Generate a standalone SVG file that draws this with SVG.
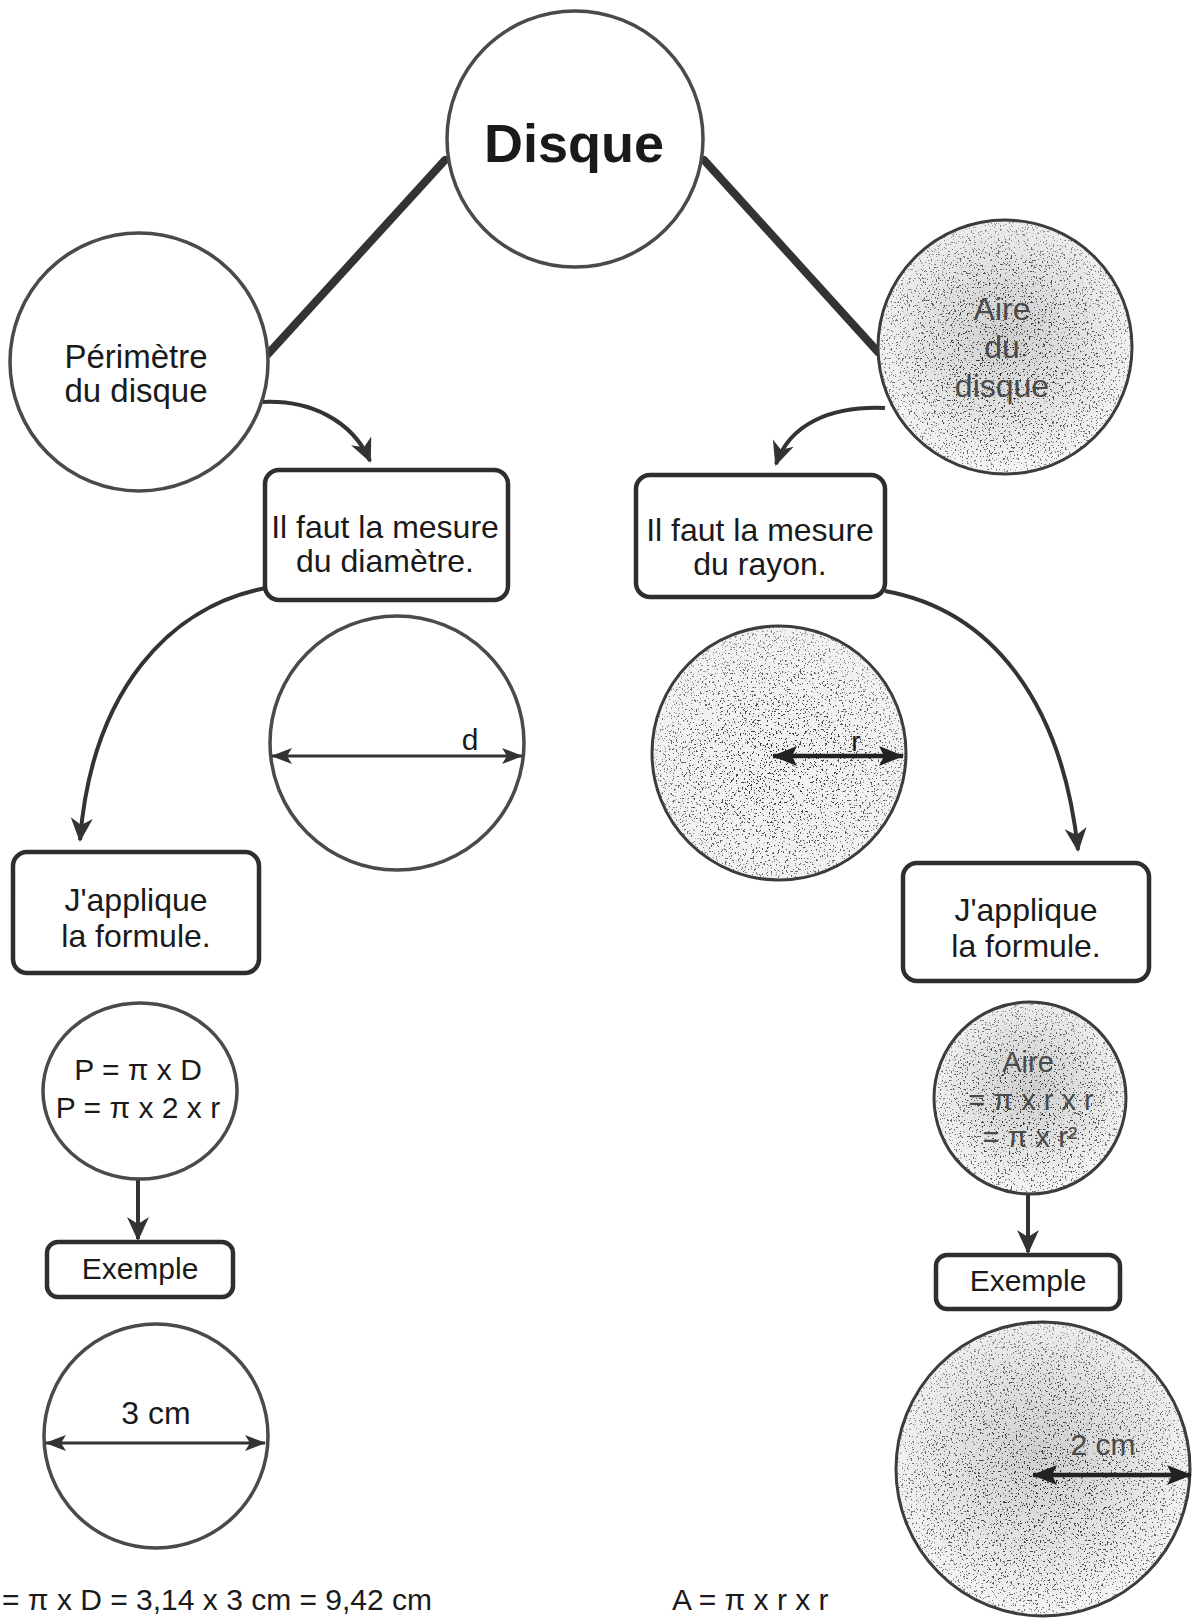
<svg xmlns="http://www.w3.org/2000/svg" width="1193" height="1618" viewBox="0 0 1193 1618">
<style>
  .ring { fill: #fff; stroke: #4a4a4a; stroke-width: 3.5; }
  .ringS { fill: none; stroke: #3c3c3c; stroke-width: 3; }
  .box { fill: #fff; stroke: #2e2e2e; stroke-width: 4.5; }
  .t { font-family: "Liberation Sans", Arial, sans-serif; fill: #1a1a1a; text-anchor: middle; }
  .tg { font-family: "Liberation Sans", Arial, sans-serif; fill: #4a4a4a; text-anchor: middle; }
  .thick { stroke: #333; stroke-width: 8; stroke-linecap: round; fill: none; }
  .curve { stroke: #333; stroke-width: 4; fill: none; marker-end: url(#ah); }
  .dim { stroke: #333; stroke-width: 3; fill: none; marker-start: url(#dh); marker-end: url(#dh); }
  .dimB { stroke: #222; stroke-width: 4.5; fill: none; marker-start: url(#dhb); marker-end: url(#dhb); }
</style>
<defs>
  <marker id="ah" markerUnits="userSpaceOnUse" markerWidth="26" markerHeight="24" refX="22" refY="12" orient="auto">
    <path d="M0,1 L24,12 L0,23 L7,12 z" fill="#333"/>
  </marker>
  <marker id="dh" markerUnits="userSpaceOnUse" markerWidth="22" markerHeight="16" refX="20" refY="8" orient="auto-start-reverse">
    <path d="M0,0 L21,8 L0,16 L5,8 z" fill="#333"/>
  </marker>
  <marker id="dhb" markerUnits="userSpaceOnUse" markerWidth="26" markerHeight="20" refX="24" refY="10" orient="auto-start-reverse">
    <path d="M0,0 L25,10 L0,20 L5,10 z" fill="#222"/>
  </marker>
  <radialGradient id="gfill" cx="50%" cy="45%" r="55%">
    <stop offset="0" stop-color="#cfcfcf"/>
    <stop offset="0.6" stop-color="#e4e4e4"/>
    <stop offset="1" stop-color="#f6f6f6"/>
  </radialGradient>
  <radialGradient id="gdens" cx="50%" cy="55%" r="55%">
    <stop offset="0" stop-color="#000" stop-opacity="1"/>
    <stop offset="0.7" stop-color="#000" stop-opacity="0.75"/>
    <stop offset="1" stop-color="#000" stop-opacity="0.45"/>
  </radialGradient>
  <filter id="speck" x="-5%" y="-5%" width="110%" height="110%" color-interpolation-filters="sRGB">
    <feTurbulence type="fractalNoise" baseFrequency="0.55" numOctaves="2" seed="7" result="noise"/>
    <feColorMatrix in="noise" type="matrix" values="0 0 0 0 0.15  0 0 0 0 0.15  0 0 0 0 0.15  18 0 0 0 -11.2" result="dots"/>
    <feComposite in="dots" in2="SourceGraphic" operator="in"/>
  </filter>
</defs>

<g id="connectors">
  <line class="thick" x1="445" y1="160" x2="268" y2="354"/>
  <line class="thick" x1="704" y1="160" x2="878" y2="352"/>
  <path class="curve" d="M263,402 C310,400 352,420 370,461"/>
  <path class="curve" d="M885,408 C830,406 790,424 776,464"/>
  <path class="curve" d="M266,588 C170,606 92,690 80,840"/>
  <path class="curve" d="M885,591 C990,610 1062,700 1078,850"/>
  <path class="curve" d="M138,1180 L138,1239"/>
  <path class="curve" d="M1028,1194 L1028,1252"/>
</g>

<g id="disque">
  <circle class="ring" cx="575" cy="139" r="128"/>
  <text class="t" x="574" y="162" font-size="54" font-weight="bold">Disque</text>
</g>

<g id="perimetre">
  <circle class="ring" cx="139" cy="362" r="129"/>
  <text class="t" x="136" y="368" font-size="33">Périmètre</text>
  <text class="t" x="136" y="402" font-size="33">du disque</text>
</g>

<g id="aire">
  <circle cx="1005" cy="347" r="127" fill="url(#gfill)"/>
  <circle cx="1005" cy="347" r="127" fill="url(#gdens)" filter="url(#speck)"/>
  <circle class="ringS" cx="1005" cy="347" r="127"/>
  <text class="tg" x="1002" y="320" font-size="32">Aire</text>
  <text class="tg" x="1002" y="358" font-size="32">du</text>
  <text class="tg" x="1002" y="397" font-size="32">disque</text>
</g>

<g id="box-diametre">
  <rect class="box" x="265" y="470" width="243" height="130" rx="14"/>
  <text class="t" x="385" y="538" font-size="32">Il faut la mesure</text>
  <text class="t" x="385" y="572" font-size="32">du diamètre.</text>
</g>

<g id="box-rayon">
  <rect class="box" x="636" y="475" width="249" height="122" rx="14"/>
  <text class="t" x="760" y="541" font-size="32">Il faut la mesure</text>
  <text class="t" x="760" y="575" font-size="32">du rayon.</text>
</g>

<g id="circle-d">
  <circle class="ring" cx="397" cy="743" r="127"/>
  <line class="dim" x1="272" y1="756" x2="522" y2="756"/>
  <text class="t" x="470" y="750" font-size="30">d</text>
</g>

<g id="circle-r">
  <circle cx="779" cy="753" r="127" fill="#f2f2f2"/>
  <circle cx="779" cy="753" r="127" fill="url(#gdens)" filter="url(#speck)"/>
  <circle class="ringS" cx="779" cy="753" r="127"/>
  <line class="dimB" x1="773" y1="756" x2="903" y2="756"/>
  <text class="t" x="856" y="751" font-size="28">r</text>
</g>

<g id="applique-left">
  <rect class="box" x="13" y="852" width="246" height="121" rx="14"/>
  <text class="t" x="136" y="911" font-size="32">J'applique</text>
  <text class="t" x="136" y="947" font-size="32">la formule.</text>
</g>

<g id="applique-right">
  <rect class="box" x="903" y="863" width="246" height="118" rx="14"/>
  <text class="t" x="1026" y="921" font-size="32">J'applique</text>
  <text class="t" x="1026" y="957" font-size="32">la formule.</text>
</g>

<g id="formule-p">
  <ellipse class="ring" cx="140" cy="1091" rx="97" ry="88"/>
  <text class="t" x="138" y="1080" font-size="30">P = π x D</text>
  <text class="t" x="138" y="1118" font-size="30">P = π x 2 x r</text>
</g>

<g id="formule-a">
  <circle cx="1030" cy="1098" r="96" fill="url(#gfill)"/>
  <circle cx="1030" cy="1098" r="96" fill="url(#gdens)" filter="url(#speck)"/>
  <circle class="ringS" cx="1030" cy="1098" r="96"/>
  <text class="tg" x="1028" y="1072" font-size="29">Aire</text>
  <text class="tg" x="1031" y="1110" font-size="29">= π x r x r</text>
  <text class="tg" x="1030" y="1147" font-size="29">= π x r²</text>
</g>

<g id="exemple-left">
  <rect class="box" x="47" y="1242" width="186" height="55" rx="11"/>
  <text class="t" x="140" y="1279" font-size="30">Exemple</text>
</g>

<g id="exemple-right">
  <rect class="box" x="936" y="1255" width="184" height="54" rx="11"/>
  <text class="t" x="1028" y="1291" font-size="30">Exemple</text>
</g>

<g id="exemple-3cm">
  <circle class="ring" cx="156" cy="1436" r="112"/>
  <line class="dim" x1="46" y1="1443" x2="265" y2="1443"/>
  <text class="t" x="156" y="1424" font-size="32">3 cm</text>
</g>

<g id="exemple-2cm">
  <circle cx="1043" cy="1469" r="147" fill="url(#gfill)"/>
  <circle cx="1043" cy="1469" r="147" fill="url(#gdens)" filter="url(#speck)"/>
  <circle class="ringS" cx="1043" cy="1469" r="147"/>
  <line class="dimB" x1="1033" y1="1475" x2="1191" y2="1475"/>
  <text class="tg" x="1103" y="1455" font-size="30">2 cm</text>
</g>

<g id="bottom-text">
  <text class="t" x="2" y="1610" font-size="30" style="text-anchor:start">= π x D = 3,14 x 3 cm = 9,42 cm</text>
  <text class="t" x="672" y="1610" font-size="30" style="text-anchor:start">A = π x r x r</text>
</g>
</svg>
